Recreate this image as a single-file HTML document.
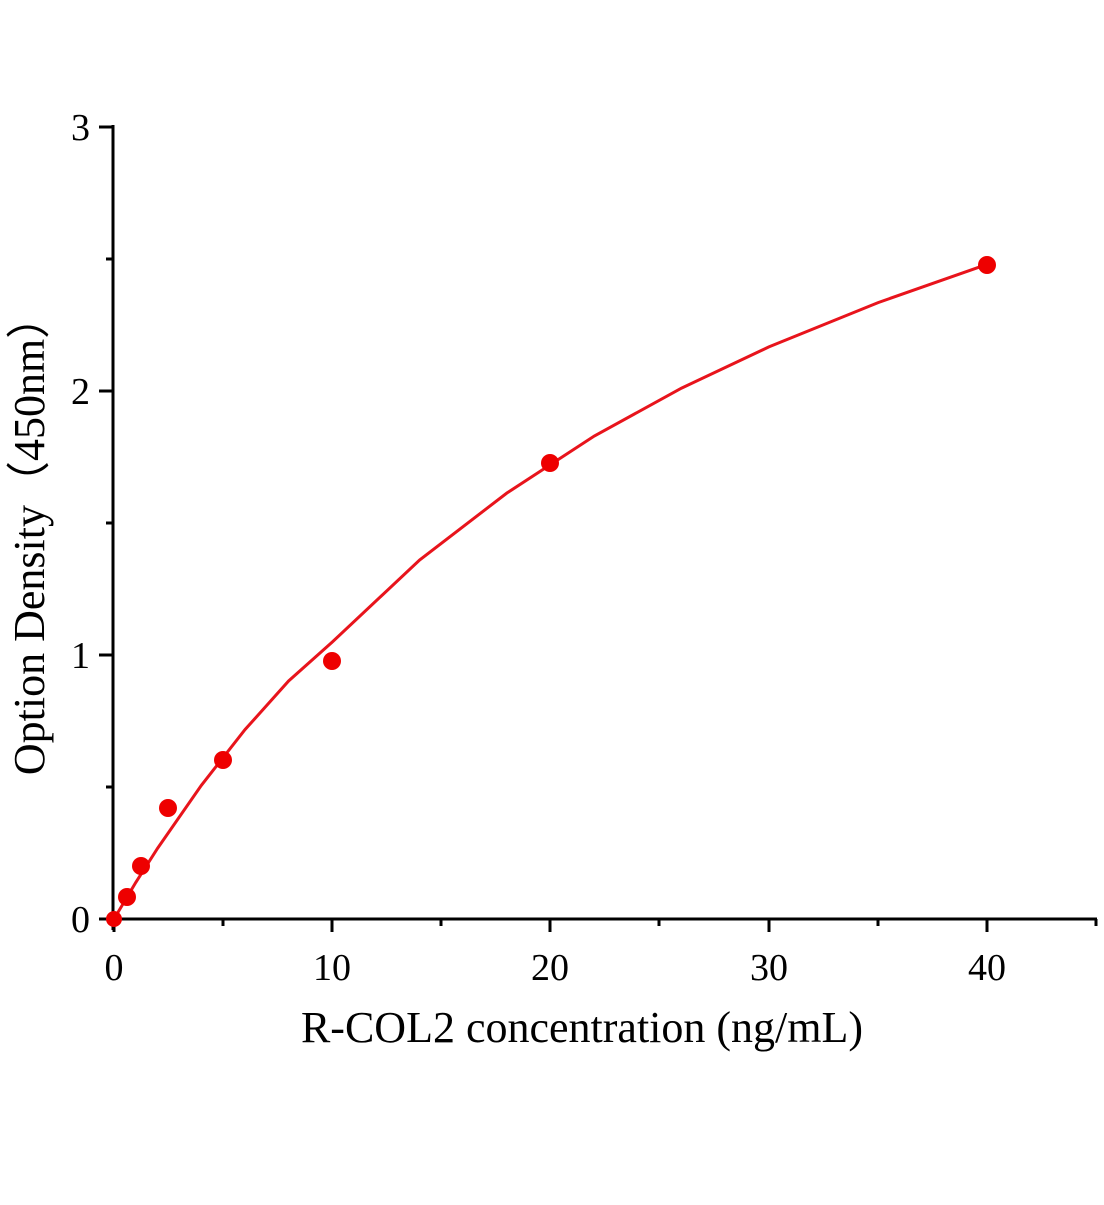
<!DOCTYPE html>
<html><head><meta charset="utf-8"><style>body{margin:0;background:#fff}</style></head><body>
<svg width="1104" height="1200" xmlns="http://www.w3.org/2000/svg" font-family="Liberation Serif, serif">
<g stroke="#000" stroke-width="3">
<line x1="113" y1="919" x2="1097" y2="919"/>
<line x1="113" y1="125" x2="113" y2="930"/>
<line x1="114" y1="919" x2="114" y2="932"/><line x1="332" y1="919" x2="332" y2="932"/><line x1="550" y1="919" x2="550" y2="932"/><line x1="769" y1="919" x2="769" y2="932"/><line x1="987" y1="919" x2="987" y2="932"/>
<line x1="223" y1="919" x2="223" y2="926"/><line x1="441" y1="919" x2="441" y2="926"/><line x1="659" y1="919" x2="659" y2="926"/><line x1="878" y1="919" x2="878" y2="926"/><line x1="1096" y1="919" x2="1096" y2="926"/>
<line x1="99" y1="919" x2="113" y2="919"/><line x1="99" y1="655" x2="113" y2="655"/><line x1="99" y1="391" x2="113" y2="391"/><line x1="99" y1="127" x2="113" y2="127"/>
<line x1="106" y1="787" x2="113" y2="787"/><line x1="106" y1="523" x2="113" y2="523"/><line x1="106" y1="259" x2="113" y2="259"/>
</g>
<g font-size="38" text-anchor="middle">
<text x="114" y="980">0</text><text x="332" y="980">10</text><text x="550" y="980">20</text><text x="769" y="980">30</text><text x="987" y="980">40</text>
</g>
<g font-size="38" text-anchor="end">
<text x="90" y="932">0</text><text x="90" y="668">1</text><text x="90" y="404">2</text><text x="90" y="140">3</text>
</g>
<text x="582" y="1042" font-size="44" text-anchor="middle">R-COL2 concentration (ng/mL)</text>
<text transform="translate(44,535) rotate(-90)" font-size="44" text-anchor="middle">Option Density（450nm）</text>
<polyline fill="none" stroke="#e8141c" stroke-width="3" points="114,919 135.8,882.4 157.7,848.1 201.3,785.4 245,729.6 288.6,681 332.3,642 419.6,560 506.9,493 594.3,436 681.6,388.1 768.9,346.9 878.1,302.6 987.2,264.3"/>
<g fill="#ee0000">
<circle cx="114" cy="919" r="8"/><circle cx="127" cy="897" r="9"/><circle cx="141" cy="866" r="9"/><circle cx="168" cy="808" r="9"/><circle cx="223" cy="760" r="9"/><circle cx="332" cy="661" r="9"/><circle cx="550" cy="463" r="9"/><circle cx="987" cy="265" r="9"/>
</g>
</svg>
</body></html>
